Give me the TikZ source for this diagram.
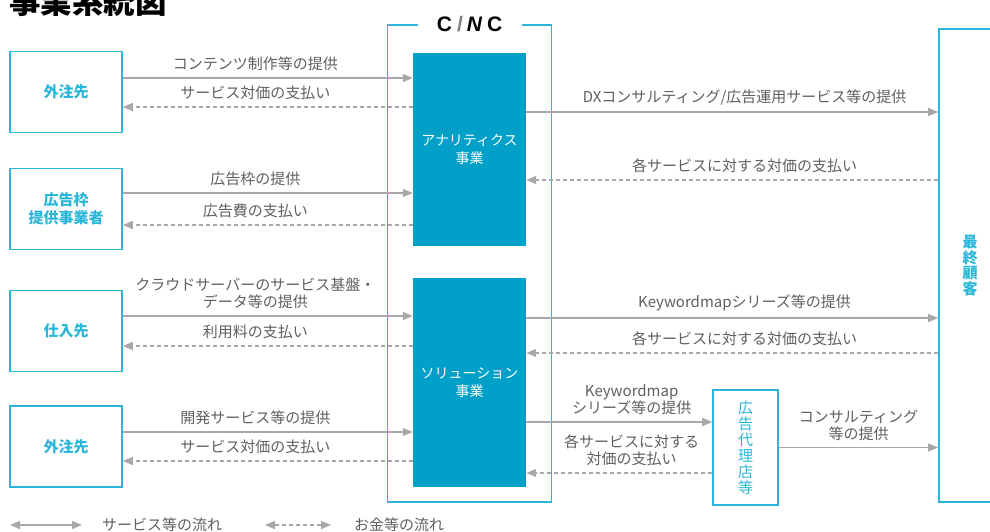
\documentclass[tikz,border=0pt]{standalone}
\usepackage{fontspec}
\setmainfont{Noto Sans CJK JP}
\newfontfamily\logofont{Liberation Sans}
\usetikzlibrary{arrows.meta}

\definecolor{cnccyan}{RGB}{41,182,217}
\definecolor{cncblue}{RGB}{0,160,200}
\definecolor{cncgray}{RGB}{168,168,168}
\definecolor{cnctext}{RGB}{95,95,95}

\begin{document}
\begin{tikzpicture}[x=1pt,y=-1pt,
  partner/.style={draw=cnccyan,line width=1.6pt,minimum width=112pt,minimum height=81pt,
    inner sep=0pt,align=center,text=cnccyan,font=\fontsize{15}{18}\selectfont\bfseries},
  biz/.style={fill=cncblue,minimum width=113pt,inner sep=0pt,align=center,
    text=white,font=\fontsize{14}{18}\selectfont},
  svc/.style={draw=cncgray,line width=1.4pt,-{Triangle[length=10pt,width=8pt]}},
  pay/.style={svc,dash pattern=on 4pt off 3pt},
  both/.style={{Triangle[length=10pt,width=8pt]}-{Triangle[length=10pt,width=8pt]}},
  lbl/.style={above=6.5pt,inner sep=0pt,align=center,text=cnctext,
    font=\fontsize{15}{17}\selectfont}]
\useasboundingbox (0,0) rectangle (990,531);

\node[anchor=base west,inner sep=0pt,font=\fontsize{31.5}{32}\selectfont\bfseries] (title) at (9,13) {事業系統図};

% C/NC frame
\node[draw=cnccyan,line width=1.6pt,minimum width=164pt,minimum height=477pt] (cnc) at (469.5,263.5) {};
\node[fill=white,minimum width=104pt,inner sep=2pt] (cnc_name) at (cnc.north)
  {\logofont\bfseries\fontsize{21}{21}\selectfont C\kern5pt{\color{gray}/}\kern4pt{\itshape N}\kern5pt C};
\node[biz,minimum height=193pt] (ana) at (469.5,149.5) {アナリティクス\\事業};
\node[biz,minimum height=209pt] (sol) at (469.5,382.5) {ソリューション\\事業};

% partners
\node[partner] (out_1) at (66,92) {外注先};
\node[partner] (ads) at (66,209) {広告枠\\提供事業者};
\node[partner] (sup) at (66,331) {仕入先};
\node[partner] (out_2) at (66,446.5) {外注先};

\node[partner,minimum width=65pt,minimum height=115pt,font=\fontsize{15}{16}\selectfont]
  (agency) at (745.5,447.5) {広\\告\\代\\理\\店\\等};
\node[partner,minimum width=62pt,minimum height=473pt,font=\fontsize{15}{15.5}\selectfont\bfseries]
  (client) at (970,265.5) {最\\終\\顧\\客};

% services
\draw[svc] (out_1.east |- 0,78) -- node[lbl,pos=.457] {コンテンツ制作等の提供} (ana.west |- 0,78);
\draw[svc] (ads.east |- 0,193) -- node[lbl,pos=.457] {広告枠の提供} (ana.west |- 0,193);
\draw[svc] (sup.east |- 0,316) -- node[lbl,pos=.457] {クラウドサーバーのサービス基盤・\\データ等の提供} (sol.west |- 0,316);
\draw[svc] (out_2.east |- 0,432) -- node[lbl,pos=.457] {開発サービス等の提供} (sol.west |- 0,432);
\draw[svc] (ana.east |- 0,112) -- node[lbl,pos=.53] {DXコンサルティング/広告運用サービス等の提供} (client.west |- 0,112);
\draw[svc] (sol.east |- 0,318) -- node[lbl,pos=.53] {Keywordmapシリーズ等の提供} (client.west |- 0,318);
\draw[svc] (sol.east |- 0,422) -- node[lbl,pos=.567] {Keywordmap\\シリーズ等の提供} (agency.west |- 0,422);
\draw[svc] (agency.east) -- node[lbl] {コンサルティング\\等の提供} (client.west |- agency.east);

% payments
\draw[pay] (ana.west |- 0,107) -- node[lbl,pos=.543] {サービス対価の支払い} (out_1.east |- 0,107);
\draw[pay] (ana.west |- 0,225) -- node[lbl,pos=.543] {広告費の支払い} (ads.east |- 0,225);
\draw[pay] (sol.west |- 0,346) -- node[lbl,pos=.543] {利用料の支払い} (sup.east |- 0,346);
\draw[pay] (sol.west |- 0,461) -- node[lbl,pos=.543] {サービス対価の支払い} (out_2.east |- 0,461);
\draw[pay] (client.west |- 0,180) -- node[lbl,pos=.47] {各サービスに対する対価の支払い} (ana.east |- 0,180);
\draw[pay] (client.west |- 0,353) -- node[lbl,pos=.47] {各サービスに対する対価の支払い} (sol.east |- 0,353);
\draw[pay] (agency.west |- 0,473) -- node[lbl,pos=.433] {各サービスに対する\\対価の支払い} (sol.east |- 0,473);

% legend
\coordinate (svc_a) at (10,525);
\coordinate (svc_b) at (82,525);
\coordinate (pay_a) at (265,525);
\coordinate (pay_b) at (331,525);
\draw[svc,both] (svc_a) -- (svc_b);
\draw[pay,both] (pay_a) -- (pay_b);
\node[anchor=west,inner sep=0pt,text=cnctext,font=\fontsize{15}{17}\selectfont] (svc_key) at (102,525) {サービス等の流れ};
\node[anchor=west,inner sep=0pt,text=cnctext,font=\fontsize{15}{17}\selectfont] (pay_key) at (354,525) {お金等の流れ};
\end{tikzpicture}
\end{document}
